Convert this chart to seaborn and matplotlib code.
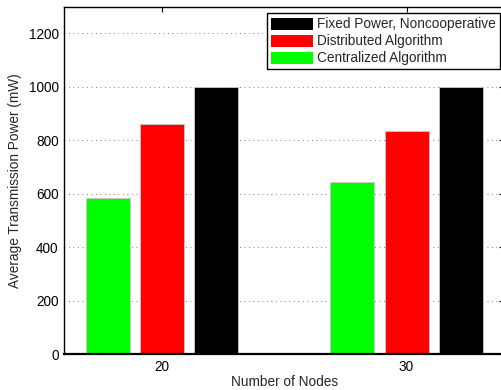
import matplotlib
matplotlib.use("Agg")
import matplotlib.pyplot as plt
import seaborn as sns
import pandas as pd
from matplotlib.patches import Patch

nodes = ["20", "30"]
centralized = [584, 644]
distributed = [860, 835]
fixed = [1000, 1000]
methods = ["Centralized Algorithm", "Distributed Algorithm", "Fixed Power, Noncooperative"]
colors = ["#00ff00", "#ff0000", "#000000"]
yticks = [0, 200, 400, 600, 800, 1000, 1200]

rows = []
for name, vals in zip(methods, [centralized, distributed, fixed]):
    for n, v in zip(nodes, vals):
        rows.append({"nodes": n, "power": v, "method": name})
df = pd.DataFrame(rows)

sns.set_style("white")
plt.rcParams['font.family'] = ['Liberation Sans', 'DejaVu Sans']
FS = 9.8
plt.rcParams['font.size'] = FS

fig = plt.figure(figsize=(5.01, 3.90), dpi=100)
ax = fig.add_axes([0.1283, 0.0923, 0.8784, 0.8905])

sns.barplot(data=df, x="nodes", y="power", hue="method", hue_order=methods,
            order=nodes, palette=colors, saturation=1, width=0.667, gap=0.19,
            edgecolor="#c8c8c8", linewidth=0.6, ax=ax, legend=False)

ax.set_xlim(-0.4, 1.4)
ax.set_ylim(0, 1300)
ax.set_yticks(yticks)
ax.set_yticklabels([str(t) for t in yticks])
ax.yaxis.grid(True, linestyle=(0, (1, 4.4)), color="#555555", linewidth=0.6)
ax.xaxis.grid(False)
ax.set_axisbelow(True)

ax.tick_params(direction="in", top=True, right=True, length=3.5, width=0.8,
               labelsize=FS, colors="black", pad=4)
for side in ["left", "top", "right"]:
    ax.spines[side].set_linewidth(1.0)
    ax.spines[side].set_color("black")
ax.spines["bottom"].set_linewidth(1.6)
ax.spines["bottom"].set_color("black")

ax.set_xlabel("Number of Nodes", fontsize=FS, labelpad=1)
ax.set_ylabel("Average Transmission Power (mW)", fontsize=FS, labelpad=5)

handles = [Patch(facecolor=c, edgecolor="none") for c in colors][::-1]
labels = methods[::-1]
leg = ax.legend(handles, labels, loc="upper right",
                bbox_to_anchor=(0.998, 1 - 13.3 / 390), bbox_transform=fig.transFigure,
                fancybox=False, frameon=True, edgecolor="black", framealpha=1,
                handlelength=3.1, handleheight=1.0, handletextpad=0.3,
                labelspacing=0.22, borderpad=0.3, borderaxespad=0, fontsize=FS)
leg.get_frame().set_linewidth(1.0)

fig.savefig("out.png", dpi=100)
